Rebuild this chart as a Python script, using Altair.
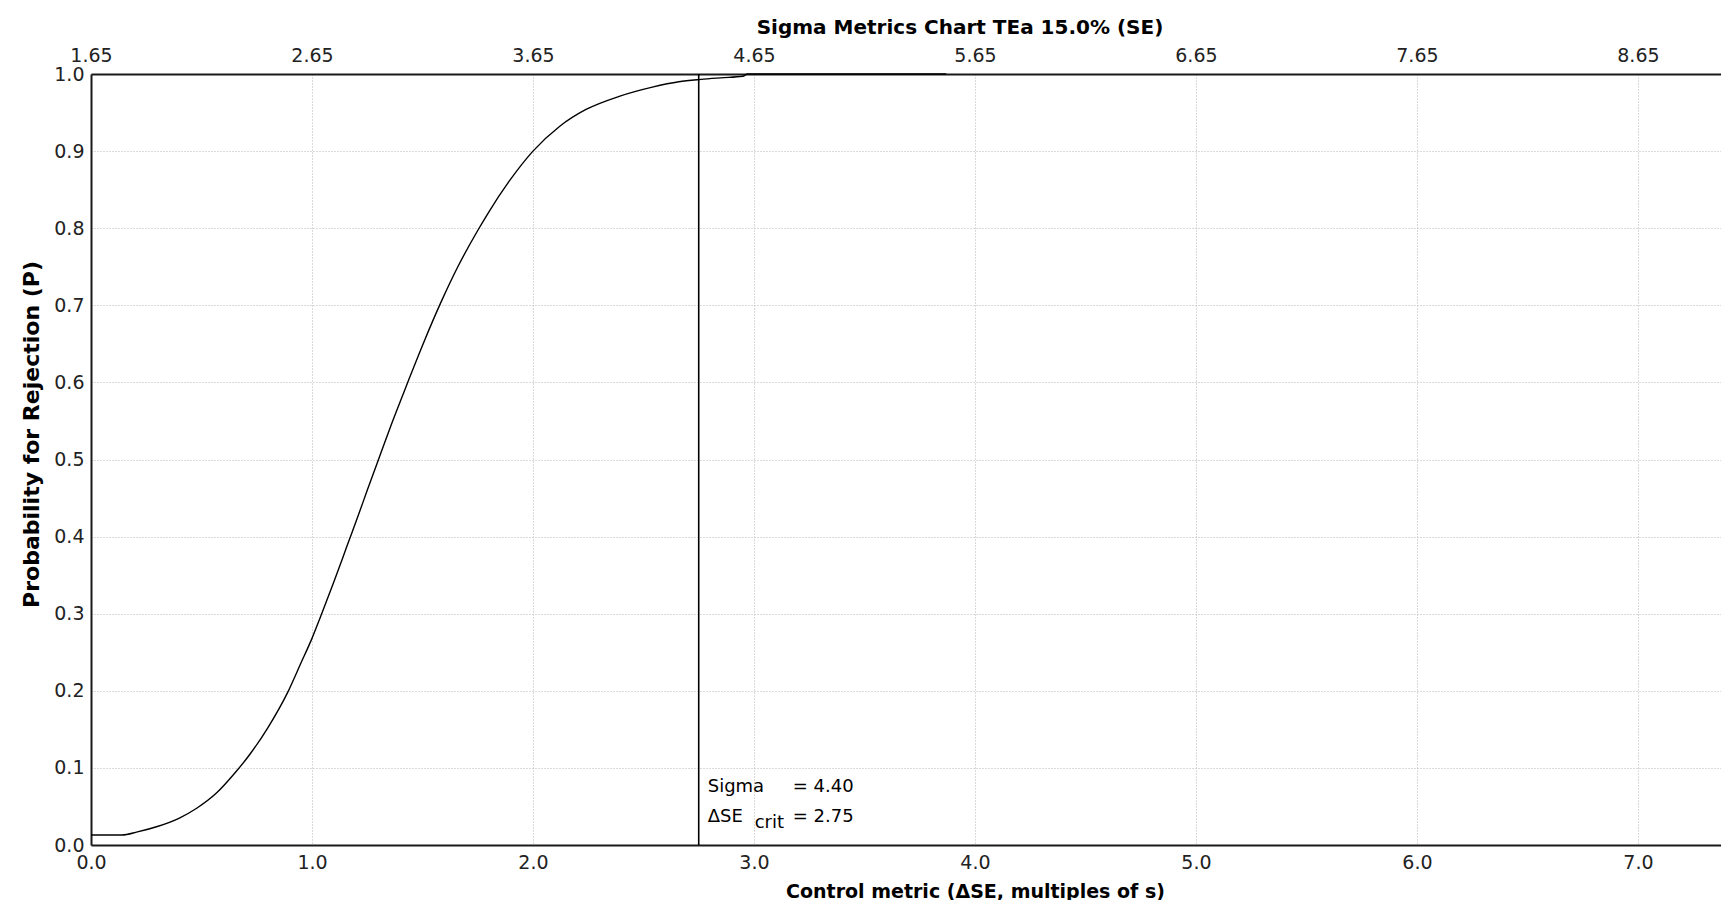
import altair as alt
import pandas as pd

# ---- data ----
delta_se = [0.0, 0.14, 0.21, 0.30, 0.40, 0.48, 0.57, 0.65, 0.72, 0.80, 0.89, 0.95,
            1.00, 1.04, 1.10, 1.16, 1.21, 1.25, 1.31, 1.36, 1.41, 1.44, 1.50, 1.59,
            1.66, 1.75, 1.80, 1.89, 2.00, 2.12, 2.24, 2.39, 2.54, 2.66, 2.76, 2.85,
            2.95, 2.97, 3.87]
p_reject = [0.013, 0.013, 0.017, 0.024, 0.035, 0.048, 0.068, 0.093, 0.118, 0.152, 0.198, 0.236,
            0.268, 0.297, 0.342, 0.389, 0.428, 0.460, 0.507, 0.546, 0.583, 0.605, 0.648, 0.708,
            0.750, 0.797, 0.821, 0.860, 0.900, 0.932, 0.954, 0.971, 0.983, 0.990, 0.993, 0.995,
            0.997, 1.0, 1.0]
x_ticks = [0, 1, 2, 3, 4, 5, 6, 7]
y_ticks = [0.0, 0.1, 0.2, 0.3, 0.4, 0.5, 0.6, 0.7, 0.8, 0.9, 1.0]
sigma_offset = 1.65
se_crit = 2.75
sigma_value = 4.40
x_max = 7.376

FONT = "DejaVu Sans"
W, H = 1630, 771

curve_df = pd.DataFrame({"dse": delta_se, "p": p_reject})
crit_df = pd.DataFrame({"crit": [se_crit]})

xscale = alt.Scale(domain=[0, x_max], nice=False, zero=False)
yscale = alt.Scale(domain=[0, 1], nice=False)

DOMAIN_COLOR = "#1a1a1a"
GRID_COLOR = "#b5b5b5"
LABEL_SIZE = 19

bottom_axis = alt.Axis(
    orient="bottom", values=x_ticks, format=".1f",
    grid=True, gridColor=GRID_COLOR, gridDash=[1, 2], gridWidth=1,
    ticks=False, tickSize=0,
    domain=True, domainColor=DOMAIN_COLOR, domainWidth=2,
    labelFont=FONT, labelFontSize=LABEL_SIZE, labelColor="#222", labelPadding=8,
    labelFlush=False, labelOverlap=False,
    title="Control metric (ΔSE, multiples of s)",
    titleFont=FONT, titleFontSize=19, titleFontWeight="bold", titleColor="#000",
    titleX=884, titleY=46, titleAlign="center", titleBaseline="middle",
)
left_axis = alt.Axis(
    orient="left", values=y_ticks, format=".1f",
    grid=True, gridColor=GRID_COLOR, gridDash=[1, 2], gridWidth=1,
    ticks=False, tickSize=0,
    domain=True, domainColor=DOMAIN_COLOR, domainWidth=2,
    labelFont=FONT, labelFontSize=LABEL_SIZE, labelColor="#222", labelPadding=7,
    labelFlush=False, labelOverlap=False,
    title="Probability for Rejection (P)",
    titleFont=FONT, titleFontSize=22, titleFontWeight="bold", titleColor="#000",
    titleX=-60, titleY=360, titleAngle=270, titleAlign="center", titleBaseline="middle",
)
top_axis = alt.Axis(
    orient="top", values=x_ticks,
    labelExpr=f"format(datum.value + {sigma_offset}, '.2f')",
    grid=False, ticks=False, tickSize=0,
    domain=True, domainColor=DOMAIN_COLOR, domainWidth=2,
    labelFont=FONT, labelFontSize=LABEL_SIZE, labelColor="#222", labelPadding=9,
    labelFlush=False, labelOverlap=False, title=None,
)

line = alt.Chart(curve_df).mark_line(color="#000", strokeWidth=1.4, interpolate="monotone").encode(
    x=alt.X("dse:Q", scale=xscale, axis=bottom_axis),
    y=alt.Y("p:Q", scale=yscale, axis=left_axis),
)

rule = alt.Chart(crit_df).mark_rule(color="#000", strokeWidth=1.6).encode(
    x=alt.X("crit:Q", scale=xscale, axis=top_axis),
)


def label(text, dx, ypx):
    return alt.Chart(crit_df).mark_text(
        text=text, align="left", baseline="middle", dx=dx,
        font=FONT, fontSize=18, color="#000",
    ).encode(
        x=alt.X("crit:Q", scale=xscale, axis=None),
        y=alt.value(ypx),
    )


t1 = label("Sigma", 9, 713)
t2 = label(f"= {sigma_value:.2f}", 94, 713)
t3 = label("ΔSE", 9, 743)
t4 = label("crit", 56, 749)
t5 = label(f"= {se_crit:.2f}", 94, 743)

chart = alt.layer(line, rule, t1, t2, t3, t4, t5).resolve_axis(
    x="independent"
).properties(
    width=W, height=H,
    autosize=alt.AutoSizeParams(type="none"),
    padding={"left": 83, "top": 66, "right": 0, "bottom": 55},
    title=alt.TitleParams(
        text="Sigma Metrics Chart TEa 15.0% (SE)", font=FONT, fontSize=20,
        fontWeight="bold", color="#000", anchor="middle", dx=54, offset=8,
    ),
).configure_view(strokeWidth=0).configure(background="white")

chart.save("out.html", embed_options={"renderer": "svg", "actions": False})
